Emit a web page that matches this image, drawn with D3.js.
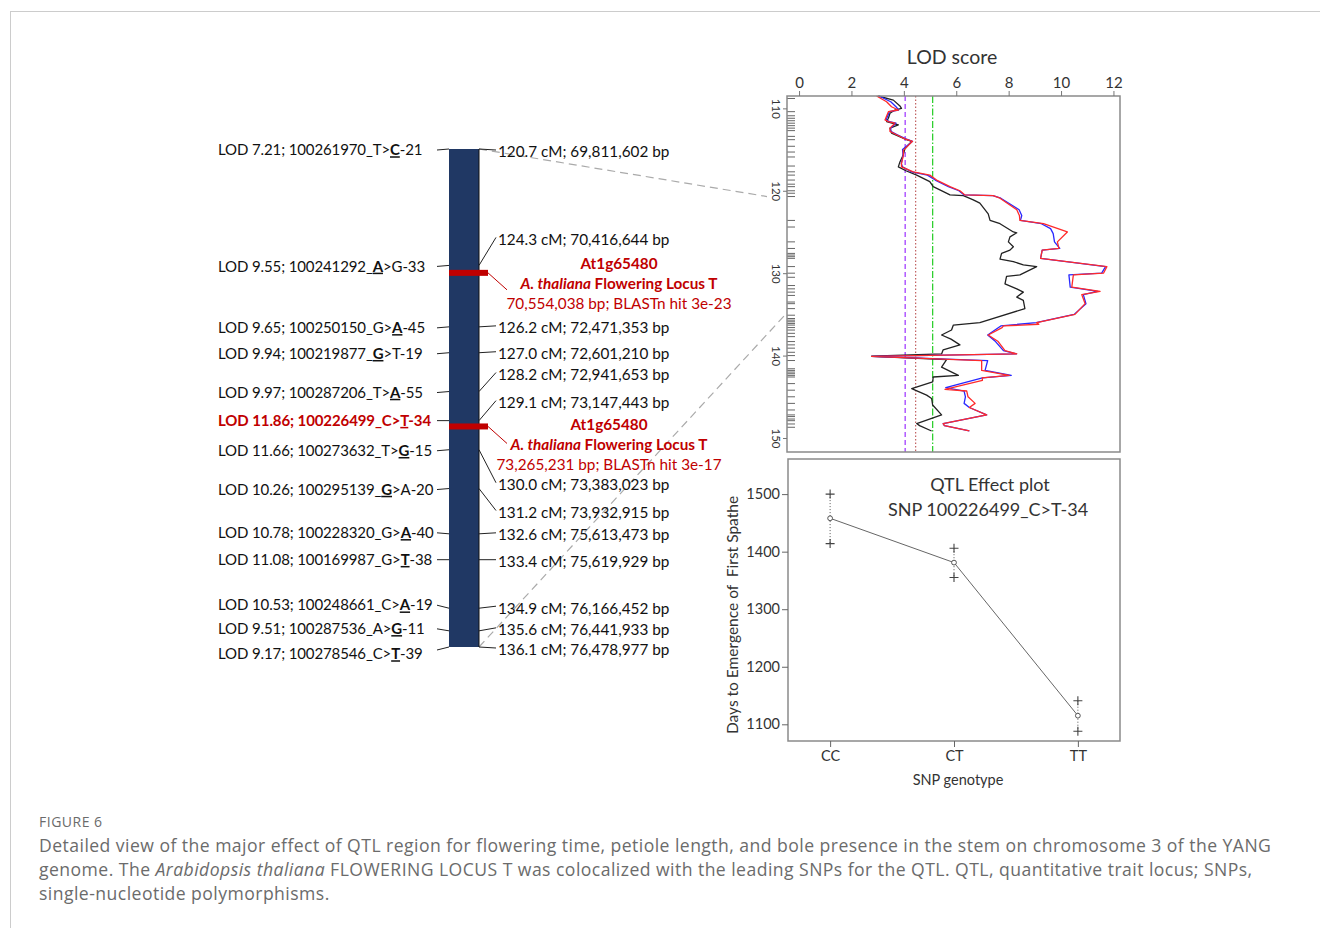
<!DOCTYPE html>
<html>
<head>
<meta charset="utf-8">
<script src="https://cdn.jsdelivr.net/npm/d3@7"></script>
<style>
  body { margin: 0; background: #fff; }
  svg { font-family: Lato, "Open Sans", sans-serif; }
  .cap { font-family: "Open Sans", sans-serif; }
</style>
</head>
<body>
<svg id="fig" width="1320" height="928"></svg>
<script>
// ---- genetic map markers (chromosome 3) ----
const markerCM  = [120.7, 124.3, 126.2, 127.0, 128.2, 129.1, 130.0, 131.2, 132.6, 133.4, 134.9, 135.6, 136.1];
const markerBp  = ["69,811,602", "70,416,644", "72,471,353", "72,601,210", "72,941,653", "73,147,443",
                   "73,383,023", "73,932,915", "75,613,473", "75,619,929", "76,166,452", "76,441,933", "76,478,977"];
const snpLOD    = ["7.21", "9.55", "9.65", "9.94", "9.97", "11.86", "11.66", "10.26", "10.78", "11.08", "10.53", "9.51", "9.17"];
const snpId     = ["100261970", "100241292", "100250150", "100219877", "100287206", "100226499", "100273632",
                   "100295139", "100228320", "100169987", "100248661", "100287536", "100278546"];
const snpRef    = ["T", "A", "G", "G", "T", "C", "T", "G", "G", "G", "C", "A", "C"];
const snpAlt    = ["C", "G", "A", "T", "A", "T", "G", "A", "A", "T", "A", "G", "T"];
const snpHi     = [1, 0, 1, 0, 1, 1, 1, 0, 1, 1, 1, 1, 1];   // 0 = ref allele marked, 1 = alt allele marked
const snpNum    = ["21", "33", "45", "19", "55", "34", "15", "20", "40", "38", "19", "11", "39"];
const leadSnp   = 5;

// FT homolog hits
const ftCM      = [124.53, 129.28];
const ftGene    = ["At1g65480", "At1g65480"];
const ftBp      = ["70,554,038", "73,265,231"];
const ftEvalue  = ["3e-23", "3e-17"];

// ---- LOD profile ----
const lodTicks  = [0, 2, 4, 6, 8, 10, 12];
const cmTicks   = [110, 120, 130, 140, 150];
const thresholds = [4.05, 4.45, 5.1];
const rugCM = [108.8, 110.4, 110.9, 111.2, 111.5, 111.8, 112.1, 112.4, 112.7, 113.4, 113.8, 114.6, 115.3,
  115.9, 117.0, 117.7, 118.1, 118.7, 119.2, 119.5, 120.0, 120.3, 120.7, 123.6, 124.4, 126.2, 127.0, 127.6,
  127.8, 128.0, 128.2, 129.2, 130.0, 130.5, 131.5, 131.9, 132.3, 132.7, 133.5, 133.7, 134.3, 135.1, 135.5,
  135.7, 135.9, 136.1, 136.3, 136.6, 136.9, 137.3, 137.7, 138.3, 138.7, 139.1, 139.6, 140.0, 140.6, 141.6,
  141.8, 142.0, 142.2, 142.4, 142.6, 143.4, 144.2, 145.0, 145.8, 146.6, 147.2, 147.4, 147.7, 147.9, 148.3, 148.7];

// [cM, LOD]
const lodBlack = [[108.5,3.02],[109.0,3.6],[109.7,3.85],[110.0,3.91],[110.2,3.66],[110.6,3.47],[111.2,3.41],
  [111.6,3.34],[112.0,3.79],[112.4,3.47],[113.0,3.53],[113.8,4.1],[114.0,4.3],[114.9,4.04],[115.7,3.97],
  [116.5,3.85],[117.1,3.79],[117.6,4.1],[118.1,4.49],[118.9,4.99],[119.5,5.12],[120.1,5.51],[120.5,5.76],
  [120.6,6.27],[121.1,6.65],[121.5,6.9],[122.8,7.22],[123.6,7.29],[124.0,7.67],[125.0,8.18],[125.1,8.31],
  [125.6,8.05],[126.2,7.99],[126.8,8.18],[127.2,8.05],[127.6,7.73],[128.3,7.67],[128.6,8.18],[129.0,8.56],
  [129.2,9.07],[130.2,8.43],[130.4,7.92],[131.3,7.86],[131.9,8.31],[132.3,8.56],[132.9,8.31],[133.3,8.56],
  [134.3,8.62],[136.0,6.9],[136.3,5.89],[136.9,5.82],[137.5,5.44],[138.0,5.8],[138.7,6.14],[139.3,5.5],
  [139.8,5.44],[140.08,2.77],[140.5,5.63],[141.4,5.44],[142.4,6.08],[142.6,5.12],[143.2,5.1],[144.0,4.3],
  [144.8,4.87],[145.2,5.06],[146.0,5.1],[147.2,5.44],[148.25,4.49],[148.5,4.6],[149.15,5.06]];

const lodBlue = [[108.5,3.05],[109.2,3.5],[109.8,3.7],[110.2,3.8],[110.4,3.45],[111.4,3.32],[111.6,3.45],
  [111.8,3.7],[112.4,3.5],[112.8,3.5],[113.2,3.75],[113.7,4.08],[114.0,4.33],[115.0,3.95],[115.7,3.97],
  [116.7,3.9],[117.1,3.95],[117.7,4.3],[118.1,4.9],[118.7,5.2],[119.5,5.7],[120.0,6.1],[120.5,6.3],
  [120.6,7.4],[120.9,7.7],[122.3,8.4],[123.0,8.5],[123.6,8.45],[124.0,9.25],[124.6,9.6],[125.2,9.7],
  [126.2,9.75],[127.0,9.95],[127.2,9.28],[128.2,9.22],[129.2,11.7],[130.0,11.55],[130.2,10.3],[131.7,10.35],
  [132.2,11.4],[132.6,10.85],[133.7,10.95],[135.0,10.5],[136.0,9.05],[136.4,7.7],[137.5,7.2],[138.3,7.5],
  [139.4,7.8],[139.8,8.3],[140.1,2.77],[140.6,7.2],[141.8,7.1],[142.4,8.1],[142.7,7.0],[143.9,5.6],
  [144.3,6.3],[145.0,6.35],[145.8,6.3],[146.3,6.5],[147.2,7.16],[148.25,5.5],[148.5,5.55],[149.15,6.5]];

const lodRed = [[108.5,2.96],[109.2,3.34],[109.8,3.53],[110.2,3.79],[110.4,3.41],[111.4,3.28],[111.6,3.41],
  [111.8,3.66],[112.4,3.47],[112.8,3.47],[113.2,3.72],[113.7,4.04],[114.0,4.33],[115.1,3.98],[115.7,3.98],
  [116.7,3.91],[117.1,3.91],[117.7,4.36],[118.1,4.99],[118.7,5.25],[119.5,5.76],[120.0,6.14],[120.5,6.33],
  [120.6,7.41],[120.9,7.67],[122.3,8.31],[123.0,8.41],[123.6,8.43],[124.0,9.33],[125.0,10.24],[126.2,9.86],
  [127.0,9.92],[127.2,9.28],[128.2,9.22],[129.2,11.75],[130.0,11.62],[130.2,10.47],[131.7,10.41],[132.2,11.49],
  [132.6,10.79],[133.7,10.92],[135.0,10.53],[136.0,9.07],[136.2,9.15],[136.4,7.8],[136.6,7.75],[137.5,7.22],
  [138.3,7.6],[139.4,7.86],[139.8,8.31],[140.1,2.77],[140.6,6.97],[141.8,6.97],[142.4,8.02],[142.7,6.99],
  [143.0,7.0],[144.1,5.57],[144.3,6.4],[145.0,6.45],[145.8,6.72],[146.3,6.5],[147.2,7.16],[148.25,5.5],
  [148.5,5.55],[149.15,6.5]];

// ---- QTL effect plot ----
const genotypes = ["CC", "CT", "TT"];
const effMean   = [1458, 1381, 1115];
const effUpper  = [1500, 1406, 1141];
const effLower  = [1414, 1355, 1088];
const effTicks  = [1100, 1200, 1300, 1400, 1500];

// label nudges (px) relative to marker position on the bar
const leftNudge  = [1, 1, 1, 1, 1, 0, 1, 1, -1, 0, -3, -2, 7];
const rightNudge = [3, -26, 1, 1, -17, -18, 35, 24, 1, 2, 0, -1, 3];

const svg = d3.select("#fig");
const RED = "#c00000";

// page frame
svg.append("line").attr("x1", 10).attr("x2", 1320).attr("y1", 11.5).attr("y2", 11.5).attr("stroke", "#ccc");
svg.append("line").attr("x1", 10.5).attr("x2", 10.5).attr("y1", 11).attr("y2", 928).attr("stroke", "#ccc");

// ================= chromosome =================
const chrY = d3.scaleLinear().domain(d3.extent(markerCM)).range([149, 647]);
const barL = 449, barR = 479;

// connectors to the LOD plot (drawn first, behind)
const xLod = d3.scaleLinear().domain([-0.46, 12.25]).range([787, 1120]);
const yLod = d3.scaleLinear().domain([108.5, 151.7]).range([96, 452]);
const connectors = [[120.7, 120.7, 767], [136.1, 134.8, 787]];
svg.selectAll(".conn").data(connectors).join("line")
  .attr("x1", barR).attr("y1", d => chrY(d[0]))
  .attr("x2", d => d[2]).attr("y2", d => yLod(d[1]))
  .attr("stroke", "#aaa").attr("stroke-width", 1.2).attr("stroke-dasharray", "8,5");

svg.append("rect").attr("x", barL).attr("y", chrY(markerCM[0]))
  .attr("width", barR - barL).attr("height", chrY(markerCM[12]) - chrY(markerCM[0]))
  .attr("fill", "#203864");
svg.append("line").attr("x1", barR).attr("x2", barR).attr("y1", chrY(markerCM[0])).attr("y2", chrY(markerCM[12]))
  .attr("stroke", "#111").attr("stroke-width", 1);

// left tick lines + SNP labels
const left = svg.append("g");
markerCM.forEach((cm, i) => {
  const y = chrY(cm);
  const ty = y + leftNudge[i];
  left.append("line").attr("x1", 437).attr("y1", y + Math.max(-3, Math.min(3, leftNudge[i])))
    .attr("x2", barL).attr("y2", y).attr("stroke", "#222").attr("stroke-width", 1);
  const isLead = i === leadSnp;
  const t = left.append("text").attr("x", 218).attr("y", ty).attr("dy", "0.35em")
    .attr("font-size", 15).attr("letter-spacing", isLead ? -0.1 : -0.12)
    .attr("fill", isLead ? RED : "#111")
    .attr("font-weight", isLead ? "bold" : "normal");
  t.append("tspan").text(`LOD ${snpLOD[i]}; ${snpId[i]}_`);
  const a = t.append("tspan").text(snpRef[i]);
  t.append("tspan").text(">");
  const b = t.append("tspan").text(snpAlt[i]);
  t.append("tspan").text("-" + snpNum[i]);
  const hi = snpHi[i] === 0 ? a : b;
  hi.attr("font-weight", "bold").attr("text-decoration", "underline");
});

// right lines + cM / bp labels
const right = svg.append("g");
markerCM.forEach((cm, i) => {
  const y = chrY(cm);
  const ly = y + rightNudge[i];
  right.append("line").attr("x1", barR).attr("y1", y).attr("x2", 496).attr("y2", ly - 2)
    .attr("stroke", "#222").attr("stroke-width", 1);
  right.append("text").attr("x", 498).attr("y", ly).attr("dy", "0.35em")
    .attr("font-size", 15.3).attr("fill", "#111")
    .text(`${cm.toFixed(1)} cM; ${markerBp[i]} bp`);
});

// FT homolog bands and labels
const ftLabelX = [619, 609], ftLabelDy = [-9, -2];
ftCM.forEach((cm, i) => {
  const y = chrY(cm);
  svg.append("rect").attr("x", barL).attr("y", y - 3).attr("width", 39).attr("height", 6).attr("fill", RED);
  svg.append("line").attr("x1", 488).attr("y1", y).attr("x2", 507).attr("y2", y + 17)
    .attr("stroke", RED).attr("stroke-width", 1);
  const g = svg.append("g").attr("fill", RED).attr("font-size", 15.3).attr("text-anchor", "middle");
  const y0 = y + ftLabelDy[i];
  g.append("text").attr("x", ftLabelX[i]).attr("y", y0).attr("dy", "0.35em")
    .attr("font-weight", "bold").text(ftGene[i]);
  const t = g.append("text").attr("x", ftLabelX[i]).attr("y", y0 + 20).attr("dy", "0.35em").attr("font-weight", "bold");
  t.append("tspan").attr("font-style", "italic").text("A. thaliana");
  t.append("tspan").text(" Flowering Locus T");
  g.append("text").attr("x", ftLabelX[i]).attr("y", y0 + 40).attr("dy", "0.35em")
    .text(`${ftBp[i]} bp; BLASTn hit ${ftEvalue[i]}`);
});

// ================= LOD profile =================
const lp = svg.append("g");
const [px0, px1] = xLod.range(), [py0, py1] = yLod.range();

lp.append("g").selectAll("line").data(rugCM).join("line")
  .attr("x1", px0).attr("x2", px0 + 8).attr("y1", d => yLod(d)).attr("y2", d => yLod(d))
  .attr("stroke", "#666").attr("stroke-width", 1);

const thrStyle = [["#9b30ff", "5,3"], ["#c06060", "1.5,2"], ["#22cc22", "7,2,1.5,2"]];
lp.selectAll(".thr").data(thresholds).join("line")
  .attr("x1", d => xLod(d)).attr("x2", d => xLod(d)).attr("y1", py0).attr("y2", py1)
  .attr("stroke", (d, i) => thrStyle[i][0]).attr("stroke-dasharray", (d, i) => thrStyle[i][1])
  .attr("stroke-width", 1.2);

const lodLine = d3.line().x(d => xLod(d[1])).y(d => yLod(d[0]));
[[lodBlack, "#222"], [lodBlue, "#2828ff"], [lodRed, "#ff2a2a"]].forEach(([d, c]) => {
  lp.append("path").datum(d).attr("d", lodLine).attr("fill", "none")
    .attr("stroke", c).attr("stroke-width", 1.3).attr("stroke-linejoin", "round");
});

lp.append("rect").attr("x", px0).attr("y", py0).attr("width", px1 - px0).attr("height", py1 - py0)
  .attr("fill", "none").attr("stroke", "#8a8a8a").attr("stroke-width", 1.5);

const topAx = lp.append("g").attr("transform", `translate(0,${py0})`)
  .call(d3.axisTop(xLod).tickValues(lodTicks).tickSize(5).tickPadding(3));
topAx.select(".domain").remove();
topAx.selectAll("line").attr("stroke", "#777");
topAx.selectAll("text").attr("font-size", 15).attr("fill", "#333").attr("font-family", "Lato");

const leftAx = lp.append("g").attr("transform", `translate(${px0},0)`)
  .call(d3.axisLeft(yLod).tickValues(cmTicks).tickSize(4).tickFormat(d3.format("d")));
leftAx.select(".domain").remove();
leftAx.selectAll("line").attr("stroke", "#777");
leftAx.selectAll("text").attr("x", null).attr("dy", null)
  .attr("text-anchor", "middle").attr("dominant-baseline", "central")
  .attr("transform", "translate(-11,0) rotate(90)")
  .attr("font-size", 11.5).attr("fill", "#333").attr("font-family", "Lato");

lp.append("text").attr("x", 952).attr("y", 57).attr("dy", "0.35em").attr("text-anchor", "middle")
  .attr("font-size", 19.5).attr("fill", "#333").text("LOD score");

// ================= QTL effect plot =================
const xG = d3.scalePoint().domain(genotypes).range([788, 1120]).padding(0.34);
const yG = d3.scaleLinear().domain([1071, 1561]).range([741, 459]);
const ep = svg.append("g");
const [ex0, ex1] = xG.range(), [ey0, ey1] = yG.range();

ep.append("rect").attr("x", ex0).attr("y", ey1).attr("width", ex1 - ex0).attr("height", ey0 - ey1)
  .attr("fill", "none").attr("stroke", "#8a8a8a").attr("stroke-width", 1.5);

const bAx = ep.append("g").attr("transform", `translate(0,${ey0})`)
  .call(d3.axisBottom(xG).tickSize(6).tickPadding(4));
bAx.select(".domain").remove();
bAx.selectAll("line").attr("stroke", "#666");
bAx.selectAll("text").attr("font-size", 14.5).attr("fill", "#333").attr("font-family", "Lato");

const lAx = ep.append("g").attr("transform", `translate(${ex0},0)`)
  .call(d3.axisLeft(yG).tickValues(effTicks).tickSize(6).tickPadding(2).tickFormat(d3.format("d")));
lAx.select(".domain").remove();
lAx.selectAll("line").attr("stroke", "#666");
lAx.selectAll("text").attr("font-size", 14.5).attr("fill", "#333").attr("font-family", "Lato");

const effData = genotypes.map((g, i) => ({ g, m: effMean[i], u: effUpper[i], l: effLower[i] }));
ep.selectAll(".err").data(effData).join("line")
  .attr("x1", d => xG(d.g)).attr("x2", d => xG(d.g)).attr("y1", d => yG(d.u)).attr("y2", d => yG(d.l))
  .attr("stroke", "#555").attr("stroke-width", 1).attr("stroke-dasharray", "1,2");
ep.append("path").datum(effData)
  .attr("d", d3.line().x(d => xG(d.g)).y(d => yG(d.m)))
  .attr("fill", "none").attr("stroke", "#666").attr("stroke-width", 1);
const plus = [];
effData.forEach(d => { plus.push([d.g, d.u]); plus.push([d.g, d.l]); });
ep.selectAll(".plus").data(plus).join("path")
  .attr("d", d => `M${xG(d[0]) - 4.5},${yG(d[1])}h9M${xG(d[0])},${yG(d[1]) - 4.5}v9`)
  .attr("stroke", "#444").attr("stroke-width", 1.1);
ep.selectAll(".mean").data(effData).join("circle")
  .attr("cx", d => xG(d.g)).attr("cy", d => yG(d.m)).attr("r", 2.4)
  .attr("fill", "#fff").attr("stroke", "#555").attr("stroke-width", 1);

ep.append("text").attr("x", 990).attr("y", 485).attr("dy", "0.35em").attr("text-anchor", "middle")
  .attr("font-size", 18).attr("fill", "#333").text("QTL Effect plot");
ep.append("text").attr("x", 988).attr("y", 510).attr("dy", "0.35em").attr("text-anchor", "middle")
  .attr("font-size", 18).attr("fill", "#333").text("SNP 100226499_C>T-34");
ep.append("text").attr("transform", "translate(733,615) rotate(-90)").attr("dy", "0.35em")
  .attr("text-anchor", "middle").attr("font-size", 15.5).attr("fill", "#333")
  .style("white-space", "pre").text("Days to Emergence of  First Spathe");
ep.append("text").attr("x", 958).attr("y", 780).attr("dy", "0.35em").attr("text-anchor", "middle")
  .attr("font-size", 14.5).attr("fill", "#333").text("SNP genotype");

// ================= caption =================
const cap = svg.append("g").attr("class", "cap").attr("fill", "#6b6b6b");
cap.append("text").attr("x", 39).attr("y", 827).attr("font-size", 14).attr("letter-spacing", 0.5).text("FIGURE 6");
const capStyle = t => t.attr("x", 39).attr("font-size", 17.6).attr("letter-spacing", 0.45);
cap.append("text").call(capStyle).attr("y", 852)
  .text("Detailed view of the major effect of QTL region for flowering time, petiole length, and bole presence in the stem on chromosome 3 of the YANG");
const c2 = cap.append("text").call(capStyle).attr("y", 876);
c2.append("tspan").text("genome. The ");
c2.append("tspan").attr("font-style", "italic").text("Arabidopsis thaliana");
c2.append("tspan").text(" FLOWERING LOCUS T was colocalized with the leading SNPs for the QTL. QTL, quantitative trait locus; SNPs,");
cap.append("text").call(capStyle).attr("y", 900).text("single-nucleotide polymorphisms.");
</script>
</body>
</html>
